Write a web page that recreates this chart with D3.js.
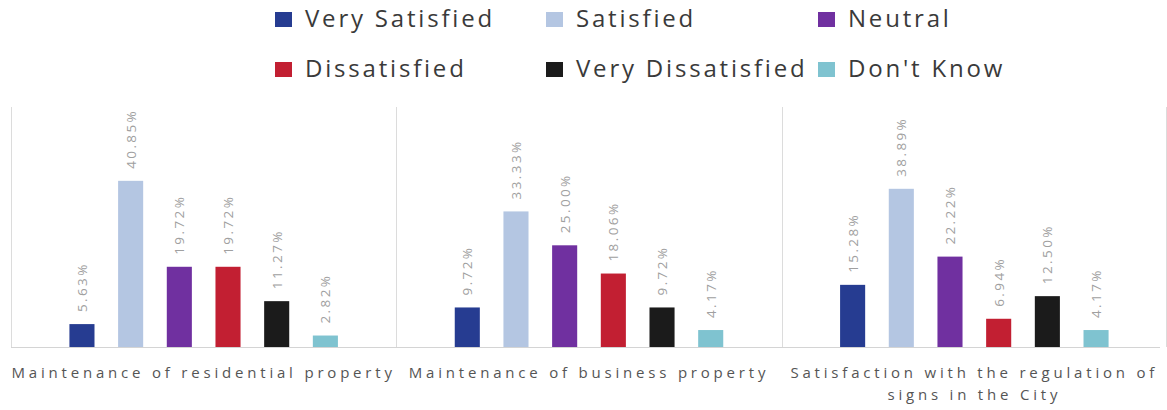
<!DOCTYPE html>
<html>
<head>
<meta charset="utf-8">
<script src="https://cdn.jsdelivr.net/npm/d3@7"></script>
<style>
  html, body { margin: 0; padding: 0; background: #fff; }
  svg { display: block; }
</style>
</head>
<body>
<svg id="chart" width="1167" height="410"></svg>
<script>
const categories = ["Maintenance of residential property", "Maintenance of business property", "Satisfaction with the regulation of signs in the City"];
const categoryLines = [["Maintenance of residential property"], ["Maintenance of business property"], ["Satisfaction with the regulation of", "signs in the City"]];
const seriesNames = ["Very Satisfied", "Satisfied", "Neutral", "Dissatisfied", "Very Dissatisfied", "Don't Know"];
const seriesColors = ["#263c91", "#b4c6e2", "#7030a0", "#c21f32", "#1b1b1b", "#7fc3d0"];
const veryS = [5.63, 9.72, 15.28];
const satisfied = [40.85, 33.33, 38.89];
const neutral = [19.72, 25.00, 22.22];
const dissatisfied = [19.72, 18.06, 6.94];
const veryD = [11.27, 9.72, 12.50];
const dontKnow = [2.82, 4.17, 4.17];
const seriesValues = [veryS, satisfied, neutral, dissatisfied, veryD, dontKnow];

const svg = d3.select("#chart");
const plot = { left: 11, right: 1167, top: 107, bottom: 347 };

const x0 = d3.scaleBand().domain(categories).range([plot.left, plot.right]).padding(0);
const x1 = d3.scaleBand().domain(seriesNames).range([0, x0.bandwidth()]).paddingInner(0.485).paddingOuter(1.2);
const y = d3.scaleLinear().domain([0, 59]).range([plot.bottom, plot.top]);

// vertical separators
svg.append("g").selectAll("line")
  .data(categories)
  .join("line")
  .attr("x1", d => Math.round(x0(d)) + 0.5)
  .attr("x2", d => Math.round(x0(d)) + 0.5)
  .attr("y1", plot.top)
  .attr("y2", plot.bottom)
  .attr("stroke", "#dcdcdc")
  .attr("stroke-width", 1);
svg.append("line")
  .attr("x1", x0.range()[1] - 0.5).attr("x2", x0.range()[1] - 0.5)
  .attr("y1", plot.top).attr("y2", plot.bottom)
  .attr("stroke", "#dcdcdc");

// bars
const groups = svg.append("g").selectAll("g")
  .data(categories)
  .join("g")
  .attr("transform", d => `translate(${x0(d)},0)`);

groups.selectAll("rect")
  .data((d, ci) => seriesNames.map((s, si) => ({ s, v: seriesValues[si][ci], c: seriesColors[si] })))
  .join("rect")
  .attr("x", d => x1(d.s))
  .attr("width", x1.bandwidth())
  .attr("y", d => y(d.v))
  .attr("height", d => y(0) - y(d.v))
  .attr("fill", d => d.c);

groups.selectAll("text")
  .data((d, ci) => seriesNames.map((s, si) => ({ s, v: seriesValues[si][ci] })))
  .join("text")
  .attr("transform", d => `translate(${x1(d.s) + x1.bandwidth() / 2},${y(d.v) - 12}) rotate(-90)`)
  .attr("text-anchor", "start")
  .attr("dominant-baseline", "central")
  .attr("font-family", "Open Sans")
  .attr("font-size", 13.5)
  .attr("letter-spacing", 2.4)
  .attr("fill", "#a0a0a0")
  .text(d => d.v.toFixed(2) + "%");

// baseline
svg.append("line")
  .attr("x1", plot.left).attr("x2", 1160)
  .attr("y1", plot.bottom + 0.5).attr("y2", plot.bottom + 0.5)
  .attr("stroke", "#d4d4d4").attr("stroke-width", 1);

// category labels
const xAxis = svg.append("g");
xAxis.selectAll("text")
  .data(categories)
  .join("text")
  .attr("x", d => x0(d) + x0.bandwidth() / 2)
  .attr("y", 378)
  .attr("text-anchor", "middle")
  .attr("font-family", "Open Sans")
  .attr("font-size", 15)
  .attr("letter-spacing", 3.8)
  .attr("fill", "#555555")
  .each(function (d, i) {
    const t = d3.select(this);
    categoryLines[i].forEach((line, li) => {
      t.append("tspan")
        .attr("x", x0(d) + x0.bandwidth() / 2)
        .attr("dy", li === 0 ? 0 : 22)
        .text(line);
    });
  });

// legend
const legendCols = [275, 546, 818];
const legendRows = [27, 77];
const legend = svg.append("g").selectAll("g")
  .data(seriesNames)
  .join("g")
  .attr("transform", (d, i) => `translate(${legendCols[i % 3]},${legendRows[Math.floor(i / 3)]})`);
legend.append("rect")
  .attr("x", 0).attr("y", -15).attr("width", 17).attr("height", 15)
  .attr("fill", (d, i) => seriesColors[i]);
legend.append("text")
  .attr("x", 30).attr("y", 0)
  .attr("font-family", "Open Sans")
  .attr("font-size", 24)
  .attr("letter-spacing", 2.8)
  .attr("fill", "#3a3a3a")
  .text(d => d);
</script>
</body>
</html>
